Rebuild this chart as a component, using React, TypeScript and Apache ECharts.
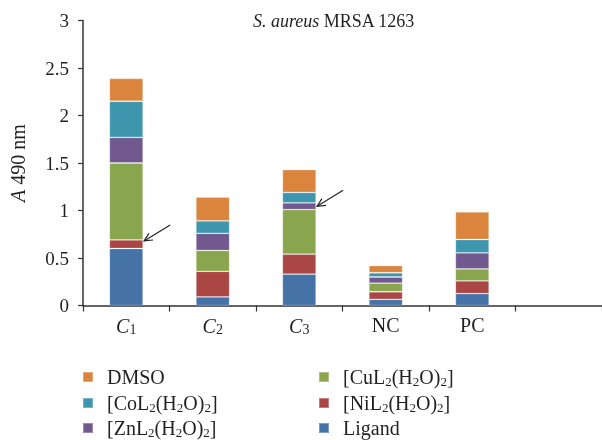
import React, { useEffect, useRef } from "react";
import * as echarts from "echarts";

const categories = ["C1", "C2", "C3", "NC", "PC", ""];
const ligand = [0.6, 0.09, 0.33, 0.065, 0.125, null];
const niL = [0.09, 0.27, 0.21, 0.08, 0.135, null];
const cuL = [0.81, 0.22, 0.47, 0.09, 0.125, null];
const znL = [0.27, 0.18, 0.07, 0.065, 0.17, null];
const coL = [0.38, 0.13, 0.11, 0.045, 0.14, null];
const dmso = [0.24, 0.25, 0.24, 0.075, 0.29, null];
const yTicks = [0, 0.5, 1, 1.5, 2, 2.5, 3];

const seriesNames = ["Ligand", "[NiL2(H2O)2]", "[CuL2(H2O)2]", "[ZnL2(H2O)2]", "[CoL2(H2O)2]", "DMSO"];
const seriesData = [ligand, niL, cuL, znL, coL, dmso];
const colors = ["#4572A7", "#AA4643", "#89A54E", "#71588F", "#3D96AE", "#DB843D"];

const FONT = '"Liberation Serif", "Times New Roman", serif';
const TXT = "#231F20";

function subFmt(s: string) {
  return s.replace(/2/g, "{s|2}");
}

export default function App() {
  const ref = useRef<HTMLDivElement>(null);
  useEffect(() => {
    if (!ref.current) return;
    const chart = echarts.init(ref.current, undefined, { renderer: "svg" });
    const legendPos: Record<string, [number, number]> = {
      DMSO: [82, 366],
      "[CoL2(H2O)2]": [82, 392],
      "[ZnL2(H2O)2]": [82, 417],
      "[CuL2(H2O)2]": [318, 366],
      "[NiL2(H2O)2]": [318, 392],
      Ligand: [318, 417],
    };
    const legends = Object.keys(legendPos).map((n) => ({
      data: [n],
      left: legendPos[n][0],
      top: legendPos[n][1],
      icon: "rect",
      itemWidth: 10,
      itemHeight: 10,
      padding: 0,
      selectedMode: false,
      formatter: (v: string) => subFmt(v),
      textStyle: {
        fontFamily: FONT,
        fontSize: 20,
        color: TXT,
        lineHeight: 22,
        padding: [0, 0, 0, 9],
        rich: {
          s: { fontFamily: FONT, fontSize: 13, color: TXT, lineHeight: 16, verticalAlign: "bottom" },
        },
      },
    }));
    const maxY = yTicks[yTicks.length - 1];
    chart.setOption({
      animation: false,
      title: {
        text: "{i|S. aureus} MRSA 1263",
        left: 253,
        top: 12,
        padding: 0,
        textStyle: {
          fontFamily: FONT,
          fontSize: 18,
          fontWeight: "normal",
          color: TXT,
          rich: { i: { fontFamily: FONT, fontSize: 18, fontStyle: "italic", color: TXT } },
        },
      },
      legend: legends,
      grid: { left: 82.5, top: 20.5, width: 524, height: 285, containLabel: false },
      xAxis: {
        type: "category",
        data: categories,
        axisLine: { lineStyle: { color: "#333", width: 1.5 } },
        axisTick: { show: true, length: 6, lineStyle: { color: "#333", width: 1.2 } },
        axisLabel: {
          interval: 0,
          margin: 9,
          fontFamily: FONT,
          fontSize: 20,
          color: TXT,
          formatter: (v: string) => {
            const m = /^C(\d)$/.exec(v);
            return m ? "{i|C}{s|" + m[1] + "}" : v;
          },
          rich: {
            i: { fontFamily: FONT, fontSize: 20, fontStyle: "italic", color: TXT, lineHeight: 22 },
            s: { fontFamily: FONT, fontSize: 14, color: TXT, lineHeight: 14, verticalAlign: "bottom" },
          },
        },
      },
      yAxis: {
        type: "value",
        min: yTicks[0],
        max: maxY,
        interval: yTicks[1] - yTicks[0],
        name: "{i|A} 490 nm",
        nameLocation: "middle",
        nameGap: 55,
        nameTextStyle: {
          fontFamily: FONT,
          fontSize: 20,
          color: TXT,
          rich: { i: { fontFamily: FONT, fontSize: 20, fontStyle: "italic", color: TXT } },
        },
        splitLine: { show: false },
        axisLine: { show: true, lineStyle: { color: "#333", width: 1.5 } },
        axisTick: { show: true, length: 5, lineStyle: { color: "#333", width: 1.2 } },
        axisLabel: { margin: 14, fontFamily: FONT, fontSize: 19, color: TXT },
      },
      series: seriesNames.map((n, i) => ({
        name: n,
        type: "bar",
        stack: "total",
        barWidth: "39%",
        data: seriesData[i],
        itemStyle: { color: colors[i], borderColor: "rgba(255,255,255,0.3)", borderWidth: 0.8 },
      })),
    });

    const band = (chart.convertToPixel({ xAxisIndex: 0 }, 1) as number) - (chart.convertToPixel({ xAxisIndex: 0 }, 0) as number);
    const halfBar = band * 0.39 / 2;
    const arrowTargets: [number, number][] = [
      [0, ligand[0]! + niL[0]! - 0.01],
      [2, ligand[2]! + niL[2]! + cuL[2]! + znL[2]! / 2],
    ];
    const arrows: any[] = [];
    arrowTargets.forEach(([ci, val]) => {
      const p = chart.convertToPixel({ xAxisIndex: 0, yAxisIndex: 0 }, [ci, val]) as number[];
      const tx = p[0] + halfBar + 1;
      const ty = p[1];
      const dx = 26, dy = -16;
      const ang = Math.atan2(dy, dx);
      const hl = 9;
      const a1 = ang + 0.45, a2 = ang - 0.45;
      const st = { stroke: "#222", lineWidth: 1.2 };
      arrows.push({ type: "line", shape: { x1: tx, y1: ty, x2: tx + dx, y2: ty + dy }, style: st });
      arrows.push({
        type: "polyline",
        shape: { points: [[tx + hl * Math.cos(a1), ty + hl * Math.sin(a1)], [tx, ty], [tx + hl * Math.cos(a2), ty + hl * Math.sin(a2)]] },
        style: { ...st, fill: null },
      });
    });
    chart.setOption({ graphic: arrows });
    return () => chart.dispose();
  }, []);
  return <div ref={ref} style={{ position: "fixed", left: 0, top: 0, width: 602, height: 440 }} />;
}
